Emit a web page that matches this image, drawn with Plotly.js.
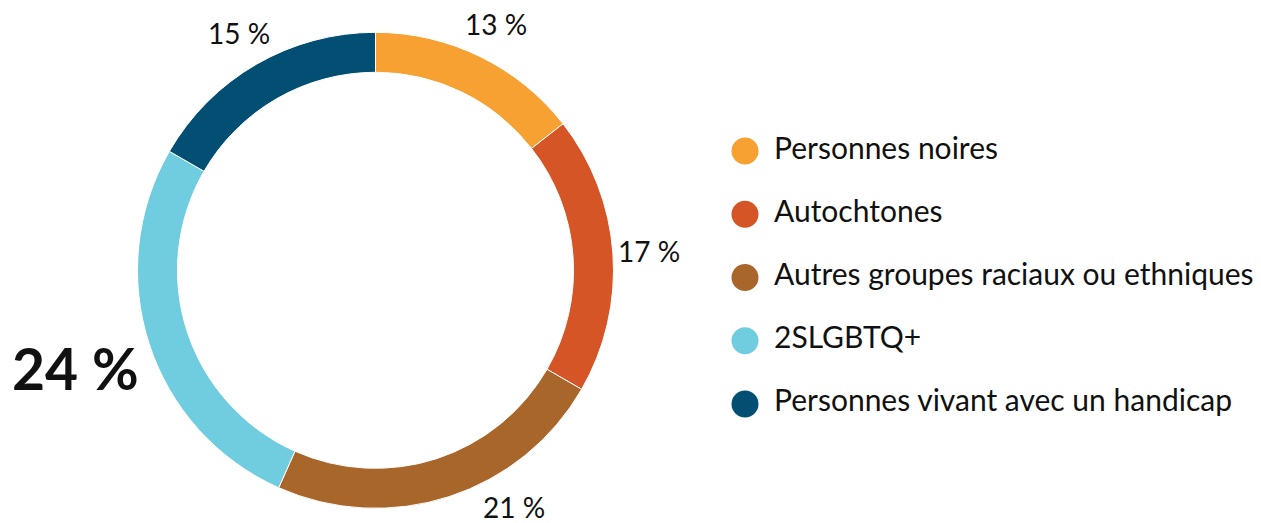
<!DOCTYPE html>
<html>
<head>
<meta charset="utf-8">
<script src="https://cdn.plot.ly/plotly-3.0.1.min.js"></script>
<style>html,body{margin:0;padding:0;background:#fff;}#chart{width:1261px;height:523px;}</style>
</head>
<body>
<div id="chart"></div>
<script>
const categories = ["Personnes noires", "Autochtones", "Autres groupes raciaux ou ethniques", "2SLGBTQ+", "Personnes vivant avec un handicap"];
const values = [13, 17, 21, 24, 15];
const colors = ["#F8A133", "#D65527", "#A9662A", "#70CDE0", "#024F73"];

const W = 1261, H = 523;
const FONT = "Lato, 'Noto Sans', sans-serif";
const pieDomain = {x: [0.10904, 0.48652], y: [0.0281, 0.93824]};
const maxIdx = values.indexOf(Math.max(...values));
const total = values.reduce((a, b) => a + b, 0);

// Pie geometry in pixels (derived from the domain)
const cxPx = (pieDomain.x[0] + pieDomain.x[1]) / 2 * W;
const cyPx = (pieDomain.y[0] + pieDomain.y[1]) / 2 * H; // from bottom
const Rpx = Math.min((pieDomain.x[1] - pieDomain.x[0]) * W, (pieDomain.y[1] - pieDomain.y[0]) * H) / 2;

// Percentage labels placed outside the ring at each slice's mid-angle
let cum = 0;
const annotations = values.map((v, i) => {
  const mid = (cum + v / 2) / total * 2 * Math.PI;
  cum += v;
  const big = i === maxIdx;
  const rl = Rpx + (big ? 77 : 36);
  let ang = mid;
  let y = cyPx + rl * Math.cos(ang);
  const minY = 16;
  if (y < minY) {
    const a = Math.acos((minY - cyPx) / rl);
    ang = Math.sin(mid) >= 0 ? a : 2 * Math.PI - a;
    y = cyPx + rl * Math.cos(ang);
  }
  const x = cxPx + rl * Math.sin(ang);
  return {
    xref: "paper", yref: "paper",
    x: x / W, y: y / H,
    xanchor: "center", yanchor: "middle",
    showarrow: false,
    text: big ? "<b>" + v + " %</b>" : v + " %",
    font: {family: FONT, size: big ? 57 : 28, color: "#111"}
  };
});

const pie = {
  type: "pie",
  labels: categories,
  values: values,
  textinfo: "none",
  hole: 0.832,
  sort: false,
  direction: "clockwise",
  rotation: 0,
  marker: {colors: colors, line: {color: "#fff", width: 1}},
  domain: pieDomain,
  showlegend: false,
  hoverinfo: "label+value"
};

// Custom legend drawn as scatter on its own axes
const legDomainX = [0.5908, 1];
const legDomainWidthPx = (legDomainX[1] - legDomainX[0]) * W;
const textGapPx = 29;

const legendMarkers = {
  type: "scatter",
  mode: "markers",
  x: categories.map(() => 0),
  y: categories.map((c, i) => i),
  marker: {size: 27, color: colors},
  cliponaxis: false,
  showlegend: false,
  hoverinfo: "skip"
};
const legendText = {
  type: "scatter",
  mode: "text",
  x: categories.map(() => textGapPx / legDomainWidthPx),
  y: categories.map((c, i) => i),
  text: categories,
  textposition: "middle right",
  textfont: {family: FONT, size: 30, color: "#111"},
  cliponaxis: false,
  showlegend: false,
  hoverinfo: "skip"
};

const layout = {
  width: W,
  height: H,
  margin: {l: 0, r: 0, t: 0, b: 0},
  paper_bgcolor: "#fff",
  plot_bgcolor: "rgba(0,0,0,0)",
  showlegend: false,
  xaxis: {domain: legDomainX, range: [0, 1], visible: false, fixedrange: true},
  yaxis: {domain: [0.1672, 0.7717], range: [4.5, -0.5], visible: false, fixedrange: true},
  annotations: annotations
};

Plotly.newPlot("chart", [pie, legendMarkers, legendText], layout, {displayModeBar: false, staticPlot: true});
</script>
</body>
</html>
